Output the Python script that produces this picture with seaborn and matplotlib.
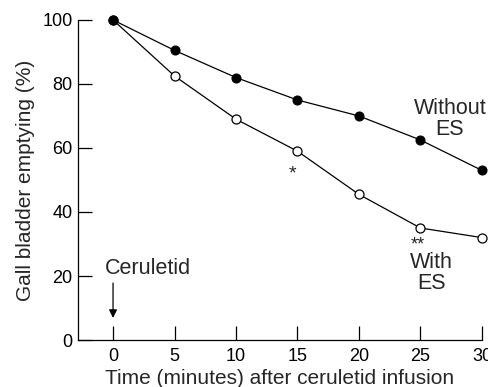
import pandas as pd
import matplotlib
matplotlib.use('Agg')
import matplotlib.pyplot as plt
import seaborn as sns

# values
time_min = [0, 5, 10, 15, 20, 25, 30]
without_es = [100, 90.5, 82, 75, 70, 62.5, 53]
with_es = [100, 82.5, 69, 59, 45.5, 35, 32]
y_ticks = [0, 20, 40, 60, 80, 100]

sns.set_theme(style='ticks')
plt.rcParams['font.family'] = ['Liberation Sans', 'DejaVu Sans']

df = pd.DataFrame({'time': time_min, 'without': without_es, 'with': with_es})

fig = plt.figure(figsize=(4.89, 3.87), dpi=100)
ax = fig.add_axes([0.1595, 0.1214, 0.826, 0.827])

# open circles first so the filled point at t=0 sits on top
sns.lineplot(data=df, x='time', y='with', ax=ax, color='black', lw=0.9,
             marker='o', markersize=6.5, markerfacecolor='white',
             markeredgecolor='black', markeredgewidth=0.9, clip_on=False)
sns.lineplot(data=df, x='time', y='without', ax=ax, color='black', lw=0.9,
             marker='o', markersize=6.5, markerfacecolor='black',
             markeredgecolor='black', clip_on=False)

ax.set_xlim(-2.85, 30)
ax.set_ylim(0, 100)
ax.set_xticks(time_min)
ax.set_yticks(y_ticks)
ax.tick_params(direction='in', length=10, width=0.9, colors='black',
               labelsize=13, pad=6)
ax.tick_params(axis='y', pad=4)
sns.despine(ax=ax)
for side in ['left', 'bottom']:
    ax.spines[side].set_linewidth(0.9)
    ax.spines[side].set_color('black')

ax.set_xlabel('Time (minutes) after ceruletid infusion', fontsize=15, labelpad=2.5)
ax.set_ylabel('Gall bladder emptying (%)', fontsize=15, labelpad=5)

# annotations
ax.text(27.4, 69, 'Without\nES', ha='center', va='center', fontsize=15.5,
        linespacing=1.0)
ax.text(25.9, 20.8, 'With\nES', ha='center', va='center', fontsize=15.5,
        linespacing=1.0)
ax.text(14.6, 51.8, '*', ha='center', va='center', fontsize=14)
ax.text(24.8, 29.8, '**', ha='center', va='center', fontsize=13)
ax.text(-0.7, 22.5, 'Ceruletid', ha='left', va='center', fontsize=15.5)
ax.annotate('', xy=(0, 6.9), xytext=(0, 17.8),
            arrowprops=dict(arrowstyle='-|>', color='black', lw=0.9,
                            mutation_scale=12, shrinkA=0, shrinkB=0))

fig.savefig('out.png', dpi=100)
